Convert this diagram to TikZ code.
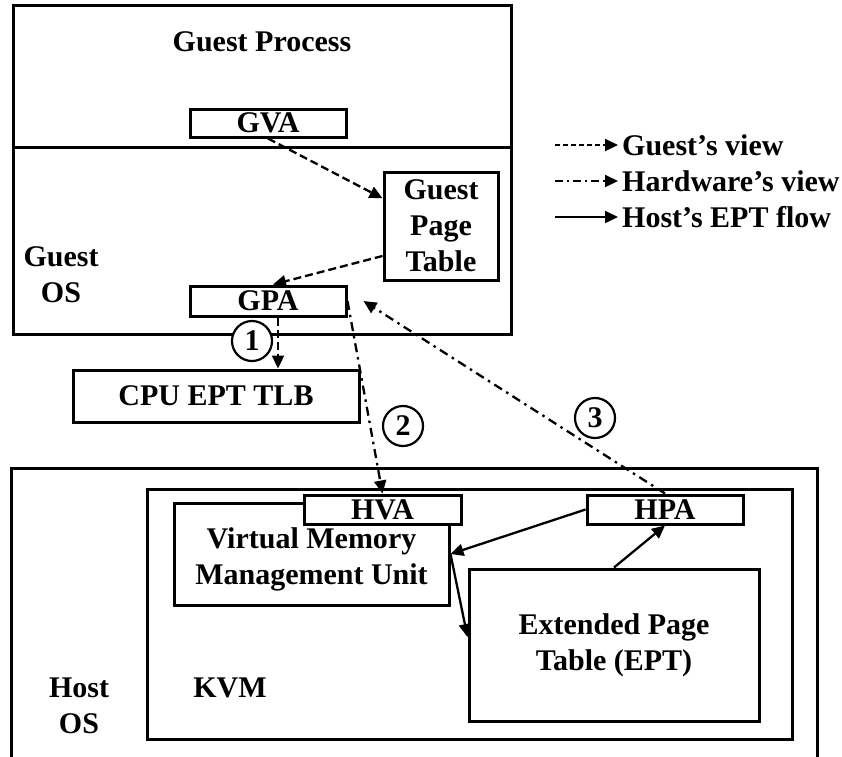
\documentclass[tikz,border=0pt]{standalone}
\usepackage{fontspec}
\setmainfont{Liberation Serif}
\usetikzlibrary{arrows.meta,calc}
\begin{document}
\begin{tikzpicture}[x=1pt,y=-1pt,
  font=\fontsize{30pt}{36pt}\selectfont\bfseries,
  region/.style={draw, line width=3pt, inner sep=0pt},
  box/.style={draw, line width=3pt, inner sep=0pt, fill=white, align=center},
  lbl/.style={inner sep=0pt, align=center},
  num/.style={draw, circle, line width=2.2pt, fill=white, inner sep=0pt, minimum size=40pt},
  tip/.style={-{Triangle[length=13pt,width=12pt]}},
  guestv/.style={tip, line width=2.3pt, dash pattern=on 8pt off 4pt},
  hwv/.style={tip, line width=2.3pt, dash pattern=on 9pt off 5pt on 2.5pt off 5pt},
  hostv/.style={tip, line width=2.3pt}]
\useasboundingbox (0,0) rectangle (842,756);
% guest regions
\node[region, minimum width=498pt, minimum height=142pt] (GP) at (262,76) {};
\node[region, minimum width=498pt, minimum height=187pt] (GOS) at (262,240.5) {};
\node[lbl] (GPt) at (262,42) {Guest Process};
\node[lbl] (GOSt) at (61,275) {Guest\\OS};
% host regions
\draw[line width=3pt] (11,760) -- (11,468) -- (817,468) -- (817,760);
\node[lbl] (HOSt) at (79,706) {Host\\OS};
\node[region, minimum width=645pt, minimum height=250pt] (KVM) at (469.5,614) {};
\node[lbl] (KVMt) at (230,688) {KVM};
% boxes
\node[box, minimum width=275pt, minimum height=102pt] (VMMU) at (311.5,554) {};
\node[lbl] (VMMUt) at (311.5,559) {Virtual Memory\\Management Unit};
\node[box, minimum width=157pt, minimum height=29pt] (HVA) at (382.5,509.5) {HVA};
\node[box, minimum width=156pt, minimum height=29pt] (HPA) at (665,509.5) {HPA};
\node[box, minimum width=290pt, minimum height=152pt] (EPT) at (614,645) {Extended Page\\Table (EPT)};
\node[box, minimum width=156pt, minimum height=28pt] (GVA) at (268,123) {GVA};
\node[box, minimum width=114pt, minimum height=108pt] (GPT) at (441,226) {Guest\\Page\\Table};
\node[box, minimum width=156pt, minimum height=30pt] (GPA) at (268,301) {GPA};
\node[box, minimum width=286pt, minimum height=52pt] (CPU) at (216,396) {CPU EPT TLB};
% guest view arrows
\draw[guestv] (GVA.south) -- ($(GPT.north west)!0.25!(GPT.south west)$);
\draw[guestv] ($(GPT.north west)!0.77!(GPT.south west)$) -- ([xshift=5pt]GPA.north);
\draw[guestv] ([xshift=10pt]GPA.south) -- ([xshift=10pt]GPA.south |- CPU.north);
% hardware view arrows
\draw[hwv] (GPA.east) -- (HVA.north);
\coordinate (gpain) at ([xshift=16pt]GPA.east);
\draw[hwv] (HPA.north) -- (gpain);
% host flow
\draw[hostv] (HPA.west) -- (VMMU.east);
\draw[hostv] (VMMU.east) -- ([yshift=8pt]EPT.west);
\draw[hostv] (EPT.north) -- (HPA.south);
% numbers
\node[num] (n1) at (252,341) {1};
\node[num] (n2) at (403,426) {2};
\node[num] (n3) at (595,418) {3};
% legend
\coordinate (lg1) at (555,145);
\coordinate (lg2) at (555,181);
\coordinate (lg3) at (555,217);
\node[anchor=west, inner sep=4pt] (lt1) at (618,145) {Guest’s view};
\node[anchor=west, inner sep=4pt] (lt2) at (618,181) {Hardware’s view};
\node[anchor=west, inner sep=4pt] (lt3) at (618,217) {Host’s EPT flow};
\draw[tip, line width=2pt, dash pattern=on 5pt off 3pt] (lg1) -- (lt1.west);
\draw[tip, line width=2pt, dash pattern=on 8pt off 4pt on 2pt off 4pt] (lg2) -- (lt2.west);
\draw[tip, line width=2pt] (lg3) -- (lt3.west);
\end{tikzpicture}
\end{document}
